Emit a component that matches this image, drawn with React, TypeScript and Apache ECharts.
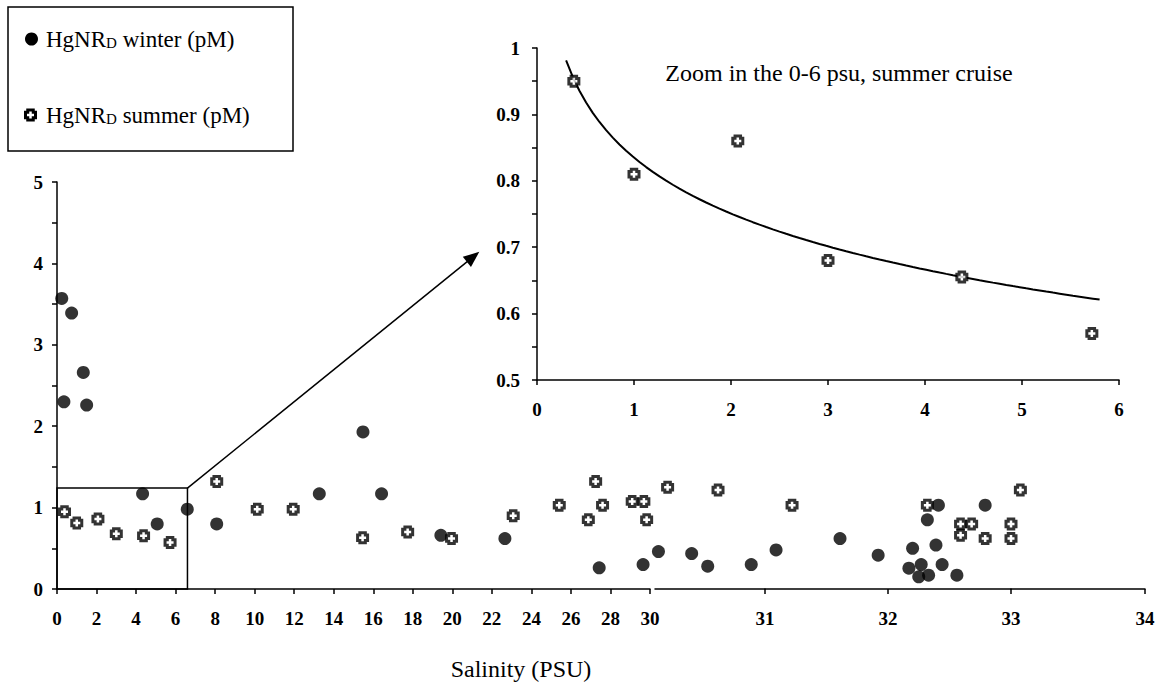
import React, { useEffect, useRef } from 'react';
import * as echarts from 'echarts';

// ---- Data ----
// Winter cruise, HgNR_D (pM) vs salinity (PSU)
const winterX = [0.24, 0.74, 1.33, 0.35, 1.5, 4.33, 5.07, 6.59, 8.08, 13.27, 15.48, 16.42, 19.42, 22.66, 27.43, 29.65,
  30.07, 30.36, 30.5, 30.88, 31.09, 31.61, 31.92, 32.2, 32.17, 32.27, 32.25, 32.33, 32.32, 32.41, 32.39, 32.44, 32.56, 32.79];
const winterY = [3.57, 3.39, 2.66, 2.3, 2.26, 1.17, 0.8, 0.98, 0.8, 1.17, 1.93, 1.17, 0.66, 0.62, 0.26, 0.3,
  0.46, 0.435, 0.28, 0.3, 0.48, 0.62, 0.415, 0.5, 0.255, 0.3, 0.15, 0.17, 0.85, 1.03, 0.54, 0.3, 0.17, 1.03];
// Summer cruise
const summerX = [0.38, 1.0, 2.07, 3.0, 4.38, 5.72, 8.08, 10.13, 11.95, 15.46, 17.74, 19.96, 23.08, 25.41, 26.88, 27.25,
  27.6, 29.1, 29.69, 29.83, 30.15, 30.59, 31.22, 32.32, 32.59, 32.68, 32.59, 32.79, 33.0, 33.0, 33.07];
const summerY = [0.95, 0.81, 0.86, 0.68, 0.655, 0.57, 1.32, 0.98, 0.98, 0.63, 0.7, 0.62, 0.9, 1.03, 0.85, 1.32,
  1.03, 1.075, 1.075, 0.85, 1.25, 1.215, 1.03, 1.03, 0.8, 0.8, 0.66, 0.62, 0.8, 0.62, 1.215];

// Broken salinity axis: ranges of each piece and their tick values
const segRanges = [[0, 30], [30, 31], [31, 33], [33, 34]];
const segTicks: (number[] | null)[] = [null, [31], [32], [33, 34]];

// Inset (0-6 psu, summer) logarithmic trendline: y = a + b ln(x)
const trendA = 0.835;
const trendB = -0.1217;
const trendXStart = 0.3;
const trendXEnd = 5.8;

// Zoom box and arrow (annotation, in data units)
const zoomBox = [[0, 0], [6.6, 1.24]];
const arrowEnd = [21.05, 4.08];

// ---- Layout ----
const FONT = 'Liberation Serif, Times New Roman, serif';
const segLayout = [
  { left: 57, width: 593, axisMin: 0 },
  { left: 655, width: 110, axisMin: 30.04 },
  { left: 765, width: 246, axisMin: 31 },
  { left: 1011, width: 134, axisMin: 33 },
];
const MAIN_TOP = 182;
const MAIN_H = 407;

const PLUS = 'path://M2.25,0H7.75V2.25H10V7.75H7.75V10H2.25V7.75H0V2.25H2.25Z';

const tickLabel = { color: '#000', fontFamily: FONT, fontSize: 19, fontWeight: 'bold' as const };
const axisLine = { show: true, onZero: false, lineStyle: { color: '#000', width: 1.5 } };

function plusPoints(cx: number, cy: number, s: number, w: number) {
  const h = s / 2, a = w / 2;
  return [[-a, -h], [a, -h], [a, -a], [h, -a], [h, a], [a, a], [a, h], [-a, h], [-a, a], [-h, a], [-h, -a], [-a, -a]]
    .map(([x, y]) => [cx + x, cy + y]);
}

export default function App() {
  const ref = useRef<HTMLDivElement>(null);
  useEffect(() => {
    if (!ref.current) return;
    const chart = echarts.init(ref.current, undefined, { renderer: 'svg' });

    const winterPts = winterX.map((x, i) => [x, winterY[i]]);
    const summerPts = summerX.map((x, i) => [x, summerY[i]]);
    const inSeg = (x: number, k: number) => {
      const [lo, hi] = segRanges[k];
      return k === segRanges.length - 1 ? x >= lo && x <= hi : x >= lo && x < hi;
    };

    const grids: any[] = segLayout.map((s) => ({ left: s.left, width: s.width, top: MAIN_TOP, height: MAIN_H }));
    grids.push({ left: 537, width: 582, top: 48, height: 332 });

    const xAxes: any[] = segLayout.map((s, k) => {
      const base: any = {
        type: 'value', gridIndex: k, min: s.axisMin, max: segRanges[k][1],
        axisLine, splitLine: { show: false },
        axisTick: { show: true, inside: false, length: 5, lineStyle: { color: '#000', width: 1.5 } },
        axisLabel: { ...tickLabel, margin: 20 },
      };
      if (segTicks[k]) {
        base.axisTick.customValues = segTicks[k];
        base.axisLabel.customValues = segTicks[k];
      } else {
        base.interval = 2;
      }
      return base;
    });
    xAxes.push({
      type: 'value', gridIndex: 4, min: 0, max: 6, interval: 1,
      axisLine, splitLine: { show: false },
      axisTick: { show: true, length: 5, lineStyle: { color: '#000', width: 1.5 } },
      axisLabel: { ...tickLabel, margin: 20 },
    });

    const yAxes: any[] = segLayout.map((s, k) => ({
      type: 'value', gridIndex: k, min: 0, max: 5, interval: 0.5, show: k === 0,
      axisLine, splitLine: { show: false },
      axisTick: { show: true, length: 5, lineStyle: { color: '#000', width: 1.5 } },
      axisLabel: {
        ...tickLabel, margin: 14,
        formatter: (v: number) => (Math.abs(v - Math.round(v)) < 1e-6 ? String(Math.round(v)) : ''),
      },
    }));
    yAxes.push({
      type: 'value', gridIndex: 4, min: 0.5, max: 1, interval: 0.05,
      axisLine, splitLine: { show: false },
      axisTick: { show: true, length: 5, lineStyle: { color: '#000', width: 1.5 } },
      axisLabel: {
        ...tickLabel, margin: 17,
        formatter: (v: number) => {
          const t = Math.round(v * 100);
          if (t % 10 !== 0) return '';
          return t === 100 ? '1' : (t / 100).toFixed(1);
        },
      },
    });

    const winterStyle = { symbol: 'circle', symbolSize: 13, itemStyle: { color: '#000' } };
    const summerStyle = { symbol: PLUS, symbolSize: 10, itemStyle: { color: '#fff', borderColor: '#000', borderWidth: 3 } };

    const series: any[] = [];
    segLayout.forEach((s, k) => {
      const w: any = {
        type: 'scatter', name: 'HgNRD winter (pM)', xAxisIndex: k, yAxisIndex: k, clip: false,
        data: winterPts.filter((p) => inSeg(p[0], k)), ...winterStyle,
      };
      const su: any = {
        type: 'scatter', name: 'HgNRD summer (pM)', xAxisIndex: k, yAxisIndex: k, clip: false, z: 3,
        data: summerPts.filter((p) => inSeg(p[0], k)), ...summerStyle,
      };
      if (k === 0) {
        w.markArea = {
          silent: true,
          itemStyle: { color: 'rgba(0,0,0,0)', borderColor: '#000', borderWidth: 1.5 },
          data: [[{ coord: zoomBox[0] }, { coord: zoomBox[1] }]],
        };
        w.markLine = {
          silent: true,
          symbol: ['none', 'triangle'],
          symbolSize: [13, 16],
          label: { show: false },
          lineStyle: { color: '#000', width: 1.5, type: 'solid' },
          data: [[{ coord: zoomBox[1] }, { coord: arrowEnd }]],
        };
      }
      series.push(w, su);
    });

    const trend: number[][] = [];
    const n = 80;
    for (let i = 0; i <= n; i++) {
      const x = trendXStart + ((trendXEnd - trendXStart) * i) / n;
      trend.push([x, trendA + trendB * Math.log(x)]);
    }
    series.push({
      type: 'line', name: 'trend', xAxisIndex: 4, yAxisIndex: 4, data: trend, showSymbol: false,
      lineStyle: { color: '#000', width: 2 }, z: 2,
    });
    series.push({
      type: 'scatter', name: 'HgNRD summer (pM) 0-6 psu', xAxisIndex: 4, yAxisIndex: 4, clip: false, z: 3,
      data: summerPts.filter((p) => p[0] <= 6), ...summerStyle,
    });

    const legendText = (label: string) => `HgNR{sub|D} ${label} (pM)`;

    chart.setOption({
      animation: false,
      backgroundColor: '#fff',
      textStyle: { fontFamily: FONT },
      grid: grids,
      xAxis: xAxes,
      yAxis: yAxes,
      series,
      graphic: [
        {
          type: 'rect', z: 10, shape: { x: 8, y: 7, width: 285, height: 144 },
          style: { fill: '#fff', stroke: '#000', lineWidth: 1.5 },
        },
        { type: 'circle', z: 11, shape: { cx: 31.5, cy: 39, r: 6.5 }, style: { fill: '#000' } },
        {
          type: 'polygon', z: 11, shape: { points: plusPoints(30.5, 115, 10, 5.5) },
          style: { fill: '#fff', stroke: '#000', lineWidth: 3 },
        },
        {
          type: 'text', z: 11, x: 46, y: 39,
          style: {
            text: legendText('winter'), fill: '#000', fontFamily: FONT, fontSize: 23, verticalAlign: 'middle',
            rich: { sub: { fontSize: 15, fontFamily: FONT, verticalAlign: 'bottom', fill: '#000' } },
          },
        },
        {
          type: 'text', z: 11, x: 46, y: 115,
          style: {
            text: legendText('summer'), fill: '#000', fontFamily: FONT, fontSize: 23, verticalAlign: 'middle',
            rich: { sub: { fontSize: 15, fontFamily: FONT, verticalAlign: 'bottom', fill: '#000' } },
          },
        },
        {
          type: 'text', z: 11, x: 839, y: 73,
          style: {
            text: 'Zoom in the 0-6 psu, summer cruise', fill: '#000', fontFamily: FONT, fontSize: 24,
            align: 'center', verticalAlign: 'middle',
          },
        },
        {
          type: 'text', z: 11, x: 521, y: 669,
          style: {
            text: 'Salinity (PSU)', fill: '#000', fontFamily: FONT, fontSize: 24,
            align: 'center', verticalAlign: 'middle',
          },
        },
      ],
    });
    return () => chart.dispose();
  }, []);
  return <div ref={ref} style={{ position: 'fixed', left: 0, top: 0, width: 1162, height: 690, background: '#fff' }} />;
}
